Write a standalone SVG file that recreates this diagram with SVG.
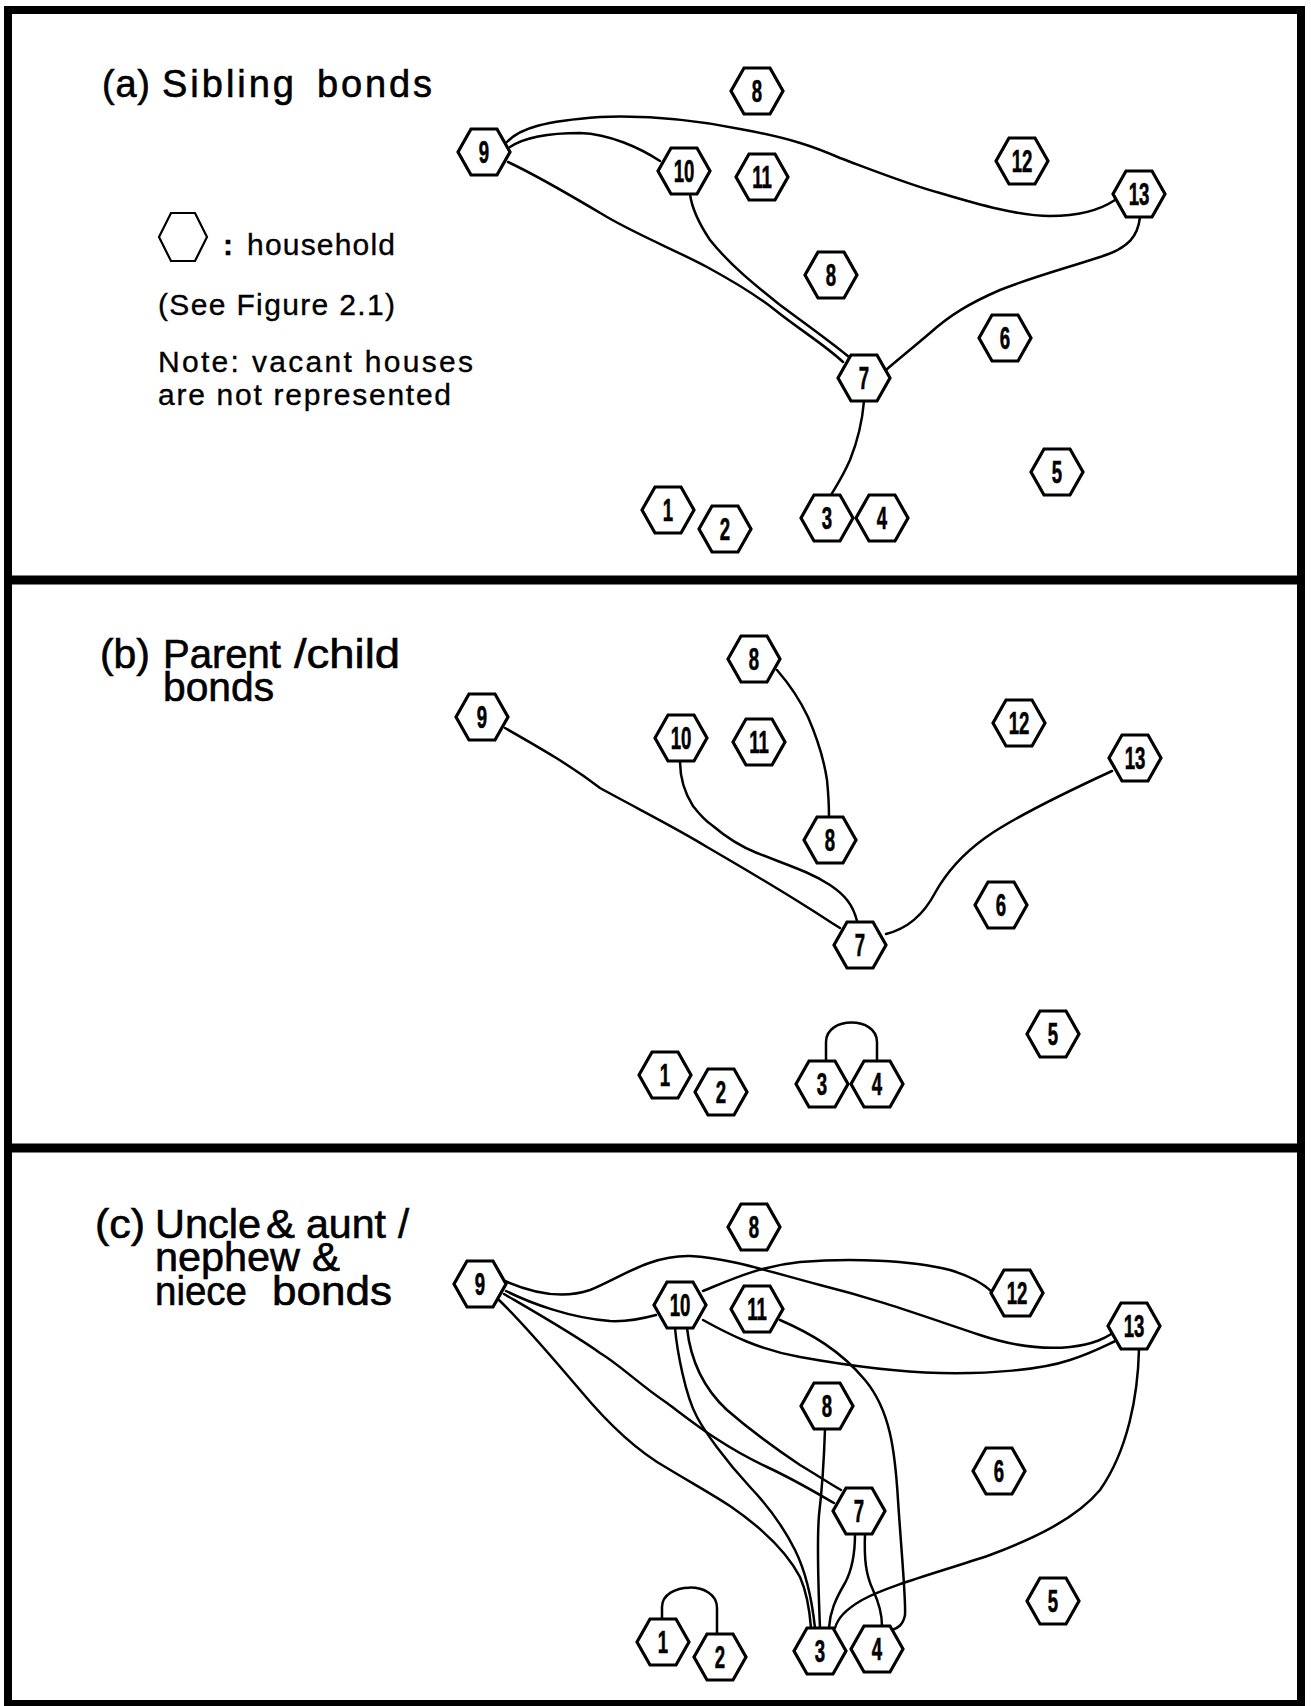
<svg xmlns="http://www.w3.org/2000/svg" xmlns:xlink="http://www.w3.org/1999/xlink" width="1311" height="1706" viewBox="0 0 1311 1706">
<style>
.frame{fill:none;stroke:#000;stroke-width:8}
.div{stroke:#000;stroke-width:9}
.hx{fill:#fff;stroke:#000;stroke-width:3.2;stroke-linejoin:miter}
.lhx{fill:#fff;stroke:#000;stroke-width:2.2}
.n{font-family:"Liberation Sans",Arial,sans-serif;font-weight:bold;font-size:31px;text-anchor:middle;stroke:#000;stroke-width:.6}
.e{fill:none;stroke:#000;stroke-width:2.5;stroke-linecap:round;stroke-linejoin:round}
.t{font-family:"Liberation Sans",Arial,sans-serif;font-size:38px;stroke:#000;stroke-width:.6}
.u{font-family:"Liberation Sans",Arial,sans-serif;font-size:40px;stroke:#000;stroke-width:.6}
.s{font-family:"Liberation Sans",Arial,sans-serif;font-size:30px;stroke:#000;stroke-width:.35}
</style>
<defs>
<path id="hx" d="M-26,0 L-13,-23 L13,-23 L26,0 L13,23 L-13,23 Z"/>
</defs>
<rect width="1311" height="1706" fill="#fff"/>
<rect class="frame" x="8" y="10" width="1293" height="1694"/>
<line class="div" x1="8" y1="580" x2="1301" y2="580"/>
<line class="div" x1="8" y1="1148" x2="1301" y2="1148"/>

<g id="labels">
<text class="t" x="102" y="97" textLength="48" lengthAdjust="spacing">(a)</text>
<text class="t" x="162" y="97" textLength="132" lengthAdjust="spacing">Sibling</text>
<text class="t" x="317" y="97" textLength="115" lengthAdjust="spacing">bonds</text>
<path class="lhx" d="M159,237 L171,213 L195,213 L207,237 L195,261 L171,261 Z"/>
<text class="s" x="223" y="255" font-weight="bold">:</text>
<text class="s" x="247" y="255" textLength="148" lengthAdjust="spacing">household</text>
<text class="s" x="158" y="315" textLength="237" lengthAdjust="spacing">(See Figure 2.1)</text>
<text class="s" x="158" y="372" textLength="315" lengthAdjust="spacing">Note: vacant  houses</text>
<text class="s" x="158" y="405" textLength="293" lengthAdjust="spacing">are not represented</text>
<text class="u" x="100" y="668" textLength="50" lengthAdjust="spacingAndGlyphs">(b)</text>
<text class="u" x="163" y="668" textLength="118" lengthAdjust="spacingAndGlyphs">Parent</text>
<text class="u" x="294" y="668" textLength="106" lengthAdjust="spacingAndGlyphs">/child</text>
<text class="u" x="163" y="701" textLength="111" lengthAdjust="spacingAndGlyphs">bonds</text>
<text class="u" x="95" y="1238" textLength="50" lengthAdjust="spacingAndGlyphs">(c)</text>
<text class="u" x="155" y="1238" textLength="106" lengthAdjust="spacingAndGlyphs">Uncle</text>
<text class="u" x="266" y="1238" textLength="29" lengthAdjust="spacingAndGlyphs">&amp;</text>
<text class="u" x="306" y="1238" textLength="80" lengthAdjust="spacingAndGlyphs">aunt</text>
<text class="u" x="398" y="1238">/</text>
<text class="u" x="155" y="1271" textLength="145" lengthAdjust="spacingAndGlyphs">nephew</text>
<text class="u" x="312" y="1271" textLength="28" lengthAdjust="spacingAndGlyphs">&amp;</text>
<text class="u" x="155" y="1305" textLength="92" lengthAdjust="spacingAndGlyphs">niece</text>
<text class="u" x="272" y="1305" textLength="120" lengthAdjust="spacingAndGlyphs">bonds</text>
</g>

<g id="connectors">
<!-- panel a -->
<path class="e" d="M507,142 C520,128 545,121 600,117 C650,115 700,121 740,129 C790,138 815,147 840,158 C880,173 910,185 940,193 C980,205 1020,216 1050,216 C1080,216 1100,210 1115,200"/>
<path class="e" d="M510,147 C525,137 550,133 580,133 C610,134 640,148 660,161"/>
<path class="e" d="M508,162 C540,177 570,195 607,217 C640,236 675,250 707,267 C740,285 760,298 775,310 C800,330 825,345 843,362"/>
<path class="e" d="M690,194 C692,210 700,225 710,240 C730,265 755,285 780,305 C810,327 835,345 849,357"/>
<path class="e" d="M1140,217 C1138,235 1130,248 1100,257 C1060,270 1030,278 1000,290 C970,303 950,315 930,333 C910,350 895,362 886,370"/>
<path class="e" d="M864,401 C862,425 856,445 850,460 C842,478 835,488 831,495"/>
<!-- panel b -->
<path class="e" d="M777,670 C790,685 800,700 808,717 C818,740 824,760 827,780 C829,800 829,810 829,817"/>
<path class="e" d="M505,728 C540,748 570,765 600,788 C640,810 680,830 707,847 C750,872 785,893 807,907 C820,915 830,922 840,928"/>
<path class="e" d="M680,761 C680,778 684,792 693,806 C700,815 707,822 713,826 C727,838 742,847 757,853 C790,866 810,872 830,885 C845,895 853,905 857,921"/>
<path class="e" d="M1112,771 C1060,795 1010,820 985,838 C960,856 945,875 935,893 C925,912 910,928 886,934"/>
<path class="e" d="M826,1061 V1042 C826,1016 877,1016 877,1042 V1061"/>
<!-- panel c -->
<path class="e" d="M505,1281 C530,1292 560,1300 590,1290 C620,1278 650,1255 690,1256 C730,1258 770,1272 820,1285 C880,1300 920,1315 980,1335 C1010,1345 1040,1350 1070,1347 C1095,1344 1105,1338 1113,1333"/>
<path class="e" d="M703,1291 C730,1280 760,1266 800,1262 C850,1258 910,1260 950,1270 C970,1276 985,1285 992,1292"/>
<path class="e" d="M506,1291 C530,1303 570,1318 610,1321 C630,1322 645,1318 656,1315"/>
<path class="e" d="M703,1320 C730,1335 760,1350 800,1357 C850,1366 900,1372 940,1373 C990,1374 1040,1370 1070,1360 C1095,1352 1110,1343 1118,1340"/>
<path class="e" d="M780,1320 C810,1333 840,1350 865,1380 C890,1410 895,1450 898,1500 C902,1560 906,1600 905,1615 C903,1625 898,1628 892,1630"/>
<path class="e" d="M504,1294 C540,1315 575,1335 600,1353 C620,1365 640,1385 667,1403 C690,1420 720,1445 767,1467 C795,1480 820,1495 834,1503"/>
<path class="e" d="M499,1300 C525,1325 550,1355 580,1390 C605,1420 635,1450 667,1468 C690,1482 712,1494 730,1506 C762,1528 787,1552 800,1577 C808,1595 810,1615 811,1628"/>
<path class="e" d="M675,1328 C677,1350 685,1395 697,1417 C705,1432 725,1460 750,1487 C770,1508 785,1530 795,1550 C805,1570 812,1600 815,1628"/>
<path class="e" d="M687,1328 C690,1355 700,1385 727,1410 C750,1430 770,1445 800,1465 C820,1477 832,1485 841,1490"/>
<path class="e" d="M825,1429 C824,1460 822,1490 819,1515 C817,1540 818,1580 820,1628"/>
<path class="e" d="M855,1534 C855,1555 852,1570 845,1583 C835,1600 830,1612 829,1628"/>
<path class="e" d="M865,1534 C864,1560 866,1575 873,1590 C880,1605 882,1615 882,1626"/>
<path class="e" d="M1139,1349 C1138,1395 1128,1450 1100,1490 C1075,1520 1030,1540 990,1555 C940,1572 890,1585 862,1600 C845,1610 838,1618 835,1628"/>
<path class="e" d="M662,1619 V1607 C662,1582 717,1580 717,1608 V1634"/>
</g>

<!-- panel a nodes -->
<g id="a8t" transform="translate(757,91)"><use href="#hx" class="hx"/><text class="n" transform="scale(.6,1)" y="11">8</text></g>
<g id="a9" transform="translate(484,152)"><use href="#hx" class="hx"/><text class="n" transform="scale(.6,1)" y="11">9</text></g>
<g id="a10" transform="translate(684,171)"><use href="#hx" class="hx"/><text class="n" transform="scale(.6,1)" y="11">10</text></g>
<g id="a11" transform="translate(762,177)"><use href="#hx" class="hx"/><text class="n" transform="scale(.6,1)" y="11">11</text></g>
<g id="a12" transform="translate(1022,161)"><use href="#hx" class="hx"/><text class="n" transform="scale(.6,1)" y="11">12</text></g>
<g id="a13" transform="translate(1139,194)"><use href="#hx" class="hx"/><text class="n" transform="scale(.6,1)" y="11">13</text></g>
<g id="a8m" transform="translate(831,275)"><use href="#hx" class="hx"/><text class="n" transform="scale(.6,1)" y="11">8</text></g>
<g id="a6" transform="translate(1005,338)"><use href="#hx" class="hx"/><text class="n" transform="scale(.6,1)" y="11">6</text></g>
<g id="a7" transform="translate(864,378)"><use href="#hx" class="hx"/><text class="n" transform="scale(.6,1)" y="11">7</text></g>
<g id="a5" transform="translate(1057,472)"><use href="#hx" class="hx"/><text class="n" transform="scale(.6,1)" y="11">5</text></g>
<g id="a1" transform="translate(668,510)"><use href="#hx" class="hx"/><text class="n" transform="scale(.6,1)" y="11">1</text></g>
<g id="a2" transform="translate(725,529)"><use href="#hx" class="hx"/><text class="n" transform="scale(.6,1)" y="11">2</text></g>
<g id="a3" transform="translate(827,518)"><use href="#hx" class="hx"/><text class="n" transform="scale(.6,1)" y="11">3</text></g>
<g id="a4" transform="translate(882,518)"><use href="#hx" class="hx"/><text class="n" transform="scale(.6,1)" y="11">4</text></g>

<!-- panel b nodes -->
<g id="b8t" transform="translate(754,659)"><use href="#hx" class="hx"/><text class="n" transform="scale(.6,1)" y="11">8</text></g>
<g id="b9" transform="translate(482,717)"><use href="#hx" class="hx"/><text class="n" transform="scale(.6,1)" y="11">9</text></g>
<g id="b10" transform="translate(681,738)"><use href="#hx" class="hx"/><text class="n" transform="scale(.6,1)" y="11">10</text></g>
<g id="b11" transform="translate(759,742)"><use href="#hx" class="hx"/><text class="n" transform="scale(.6,1)" y="11">11</text></g>
<g id="b12" transform="translate(1019,723)"><use href="#hx" class="hx"/><text class="n" transform="scale(.6,1)" y="11">12</text></g>
<g id="b13" transform="translate(1135,758)"><use href="#hx" class="hx"/><text class="n" transform="scale(.6,1)" y="11">13</text></g>
<g id="b8m" transform="translate(830,840)"><use href="#hx" class="hx"/><text class="n" transform="scale(.6,1)" y="11">8</text></g>
<g id="b6" transform="translate(1001,905)"><use href="#hx" class="hx"/><text class="n" transform="scale(.6,1)" y="11">6</text></g>
<g id="b7" transform="translate(860,945)"><use href="#hx" class="hx"/><text class="n" transform="scale(.6,1)" y="11">7</text></g>
<g id="b5" transform="translate(1053,1034)"><use href="#hx" class="hx"/><text class="n" transform="scale(.6,1)" y="11">5</text></g>
<g id="b1" transform="translate(665,1075)"><use href="#hx" class="hx"/><text class="n" transform="scale(.6,1)" y="11">1</text></g>
<g id="b2" transform="translate(721,1092)"><use href="#hx" class="hx"/><text class="n" transform="scale(.6,1)" y="11">2</text></g>
<g id="b3" transform="translate(822,1084)"><use href="#hx" class="hx"/><text class="n" transform="scale(.6,1)" y="11">3</text></g>
<g id="b4" transform="translate(877,1084)"><use href="#hx" class="hx"/><text class="n" transform="scale(.6,1)" y="11">4</text></g>

<!-- panel c nodes -->
<g id="c8t" transform="translate(754,1227)"><use href="#hx" class="hx"/><text class="n" transform="scale(.6,1)" y="11">8</text></g>
<g id="c9" transform="translate(480,1284)"><use href="#hx" class="hx"/><text class="n" transform="scale(.6,1)" y="11">9</text></g>
<g id="c10" transform="translate(680,1305)"><use href="#hx" class="hx"/><text class="n" transform="scale(.6,1)" y="11">10</text></g>
<g id="c11" transform="translate(757,1309)"><use href="#hx" class="hx"/><text class="n" transform="scale(.6,1)" y="11">11</text></g>
<g id="c12" transform="translate(1017,1293)"><use href="#hx" class="hx"/><text class="n" transform="scale(.6,1)" y="11">12</text></g>
<g id="c13" transform="translate(1134,1326)"><use href="#hx" class="hx"/><text class="n" transform="scale(.6,1)" y="11">13</text></g>
<g id="c8m" transform="translate(827,1406)"><use href="#hx" class="hx"/><text class="n" transform="scale(.6,1)" y="11">8</text></g>
<g id="c6" transform="translate(999,1471)"><use href="#hx" class="hx"/><text class="n" transform="scale(.6,1)" y="11">6</text></g>
<g id="c7" transform="translate(859,1511)"><use href="#hx" class="hx"/><text class="n" transform="scale(.6,1)" y="11">7</text></g>
<g id="c5" transform="translate(1053,1601)"><use href="#hx" class="hx"/><text class="n" transform="scale(.6,1)" y="11">5</text></g>
<g id="c1" transform="translate(663,1642)"><use href="#hx" class="hx"/><text class="n" transform="scale(.6,1)" y="11">1</text></g>
<g id="c2" transform="translate(720,1657)"><use href="#hx" class="hx"/><text class="n" transform="scale(.6,1)" y="11">2</text></g>
<g id="c3" transform="translate(820,1651)"><use href="#hx" class="hx"/><text class="n" transform="scale(.6,1)" y="11">3</text></g>
<g id="c4" transform="translate(877,1649)"><use href="#hx" class="hx"/><text class="n" transform="scale(.6,1)" y="11">4</text></g>
</svg>
